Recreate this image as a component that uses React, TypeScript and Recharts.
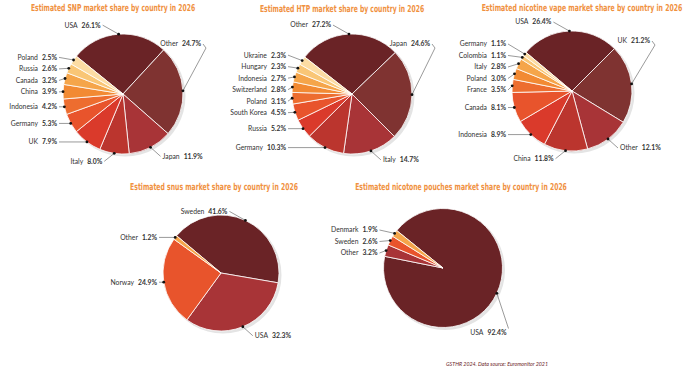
import React from "react";
import { PieChart, Pie, Cell } from "recharts";

// values (market share, %)
const snpCountries = ["USA", "Other", "Japan", "Italy", "UK", "Germany", "Indonesia", "China", "Canada", "Russia", "Poland"];
const snpShares = [26.1, 24.7, 11.9, 8.0, 7.9, 5.3, 4.2, 3.9, 3.2, 2.6, 2.5];

const htpCountries = ["Other", "Japan", "Italy", "Germany", "Russia", "South Korea", "Poland", "Switzerland", "Indonesia", "Hungary", "Ukraine"];
const htpShares = [27.2, 24.6, 14.7, 10.3, 5.2, 4.5, 3.1, 2.8, 2.7, 2.3, 2.3];

const vapeCountries = ["USA", "UK", "Other", "China", "Indonesia", "Canada", "France", "Poland", "Italy", "Colombia", "Germany"];
const vapeShares = [26.4, 21.2, 12.1, 11.8, 8.9, 8.1, 3.5, 3.0, 2.8, 1.1, 1.1];

const snusCountries = ["Sweden", "USA", "Norway", "Other"];
const snusShares = [41.6, 32.3, 24.9, 1.2];

const pouchCountries = ["USA", "Other", "Sweden", "Denmark"];
const pouchShares = [92.4, 3.2, 2.6, 1.9];

const PALETTE = [
  "#6a2326", "#7f3331", "#a83437", "#bb352e", "#da3a2b", "#e8542c",
  "#ed6d2f", "#f28a33", "#f5a54a", "#f9c676", "#fcdca3",
];
const SMALL = [PALETTE[0], PALETTE[2], PALETTE[5], PALETTE[8]];

const W = 700;
const H = 370;
const RAD = Math.PI / 180;
const TITLE_SQUEEZE = 0.62;

interface ChartDef {
  key: string;
  title: string;
  titleX: number;
  titleY: number;
  cx: number;
  cy: number;
  r: number;
  start: number;
  names: string[];
  values: number[];
  colors: string[];
}

const charts: ChartDef[] = [
  { key: "snp", title: "Estimated SNP market share by country in 2026", titleX: 113, titleY: 8, cx: 123, cy: 94, r: 60, start: 141, names: snpCountries, values: snpShares, colors: PALETTE },
  { key: "htp", title: "Estimated HTP market share by country in 2026", titleX: 342, titleY: 9, cx: 352, cy: 94, r: 60, start: 142, names: htpCountries, values: htpShares, colors: PALETTE },
  { key: "vape", title: "Estimated nicotine vape market share by country in 2026", titleX: 582, titleY: 8, cx: 572, cy: 91, r: 60, start: 140, names: vapeCountries, values: vapeShares, colors: PALETTE },
  { key: "snus", title: "Estimated snus market share by country in 2026", titleX: 214, titleY: 187, cx: 221, cy: 273, r: 58, start: 140, names: snusCountries, values: snusShares, colors: SMALL },
  { key: "pouch", title: "Estimated nicotone pouches market share by country in 2026", titleX: 461, titleY: 187, cx: 443, cy: 268, r: 59.5, start: 141, names: pouchCountries, values: pouchShares, colors: SMALL },
];

type Pt = [number, number];
interface LabelPos {
  tx: number;
  ty: number;
  anchor: "start" | "end";
  kind: string;
}

function polar(cx: number, cy: number, r: number, a: number): Pt {
  return [cx + r * Math.cos(-a * RAD), cy + r * Math.sin(-a * RAD)];
}

// where each slice's text goes; left-hand labels are stacked in a column and spread apart
function layoutLabels(c: ChartDef): LabelPos[] {
  const total = c.values.reduce((s, v) => s + v, 0);
  let a = c.start;
  const out: LabelPos[] = c.values.map((v) => {
    const sweep = (v / total) * 360;
    const mid = a - sweep / 2;
    a -= sweep;
    let theta = (((90 - mid) % 360) + 360) % 360;
    if (theta >= 270) theta -= 360;
    const [dx, dy] = polar(c.cx, c.cy, c.r, mid);
    if (theta >= -45 && theta < 45) return { tx: dx - 18, ty: dy - 9, anchor: "end", kind: "top" };
    if (theta >= 45 && theta < 105) return { tx: c.cx + c.r + 18, ty: c.cy - 50, anchor: "end", kind: "upright" };
    if (theta >= 105 && theta < 140) return { tx: c.cx + c.r + 4, ty: c.cy + c.r + 5, anchor: "end", kind: "downright" };
    if (theta >= 140 && theta < 200) {
      return theta < 178
        ? { tx: dx + 12, ty: dy + 9, anchor: "start", kind: "bottom" }
        : { tx: dx - 12, ty: dy + 8, anchor: "end", kind: "bottom" };
    }
    return { tx: c.cx - c.r - 6, ty: dy, anchor: "end", kind: "left" };
  });

  const left = out.filter((o) => o.kind === "left").sort((p, q) => p.ty - q.ty);
  const gap = 11.5;
  for (let it = 0; it < 60; it++) {
    for (let i = 1; i < left.length; i++) {
      const d = left[i].ty - left[i - 1].ty;
      if (d < gap) {
        const s = (gap - d) / 2;
        left[i - 1].ty -= s;
        left[i].ty += s;
      }
    }
  }
  return out;
}

function makeLabel(c: ChartDef) {
  const pos = layoutLabels(c);
  return (p: any) => {
    const l = pos[p.index];
    const [dx, dy] = polar(p.cx, p.cy, p.outerRadius, p.midAngle);
    let pts: Pt[];
    if (l.kind === "upright") pts = [[l.tx + 2, l.ty], [l.tx + 5, l.ty + 4], [dx, dy]];
    else if (l.kind === "downright") pts = [[dx, dy], [l.tx + 2, l.ty - 4]];
    else if (l.anchor === "start") pts = [[dx, dy], [l.tx - 2, l.ty]];
    else pts = [[dx, dy], [l.tx + 2, l.ty]];
    return (
      <g key={`lbl-${c.key}-${p.index}`}>
        <polyline points={pts.map((q) => q.join(",")).join(" ")} fill="none" stroke="#555" strokeWidth={0.6} />
        <circle cx={dx} cy={dy} r={1.4} fill="#111" />
        <text
          x={l.tx}
          y={l.ty}
          dy="0.35em"
          textAnchor={l.anchor}
          fontSize={6.8}
          fontFamily="Lato, 'Noto Sans', sans-serif"
          fill="#333"
        >
          <tspan>{c.names[p.index]}</tspan>
          <tspan dx={4} fontWeight={700}>{c.values[p.index].toFixed(1)}%</tspan>
        </text>
      </g>
    );
  };
}

export default function App() {
  return (
    <div style={{ position: "absolute", left: 0, top: 0, width: W, height: H, background: "#fff" }}>
      <PieChart width={W} height={H} margin={{ top: 0, right: 0, bottom: 0, left: 0 }}>
        {charts.map((c) => (
          <Pie
            key={`shadow-${c.key}`}
            data={[{ name: "shadow", value: 1 }]}
            dataKey="value"
            cx={c.cx + 2}
            cy={c.cy + 2}
            outerRadius={c.r + 0.5}
            fill="#e4e4e4"
            stroke="none"
            isAnimationActive={false}
          />
        ))}
        {charts.map((c) => (
          <Pie
            key={c.key}
            data={c.names.map((n, i) => ({ name: n, value: c.values[i] }))}
            dataKey="value"
            nameKey="name"
            cx={c.cx}
            cy={c.cy}
            outerRadius={c.r}
            startAngle={c.start}
            endAngle={c.start - 360}
            stroke="#fff"
            strokeWidth={0.8}
            labelLine={false}
            label={makeLabel(c)}
            isAnimationActive={false}
          >
            {c.names.map((n, i) => (
              <Cell key={n} fill={c.colors[i]} />
            ))}
          </Pie>
        ))}
      </PieChart>
      <svg width={W} height={H} style={{ position: "absolute", left: 0, top: 0, pointerEvents: "none" }}>
        {charts.map((c) => (
          <g key={`t-${c.key}`} transform={`translate(${c.titleX},${c.titleY}) scale(${TITLE_SQUEEZE},1)`}>
            <text
              x={0}
              y={0}
              dy="0.36em"
              textAnchor="middle"
              fontSize={9.5}
              fontWeight={700}
              fontFamily="'DejaVu Sans Condensed', 'Liberation Sans', sans-serif"
              fill="#f0913f"
              textLength={(c.title.length * 3.65) / TITLE_SQUEEZE}
              lengthAdjust="spacingAndGlyphs"
            >
              {c.title}
            </text>
          </g>
        ))}
        <text
          x={446}
          y={364}
          dy="0.35em"
          fontSize={5.5}
          fontStyle="italic"
          fontFamily="Lato, sans-serif"
          fill="#6a2326"
          textLength={102}
          lengthAdjust="spacingAndGlyphs"
        >
          GSTHR 2024. Data source: Euromonitor 2021
        </text>
      </svg>
    </div>
  );
}
